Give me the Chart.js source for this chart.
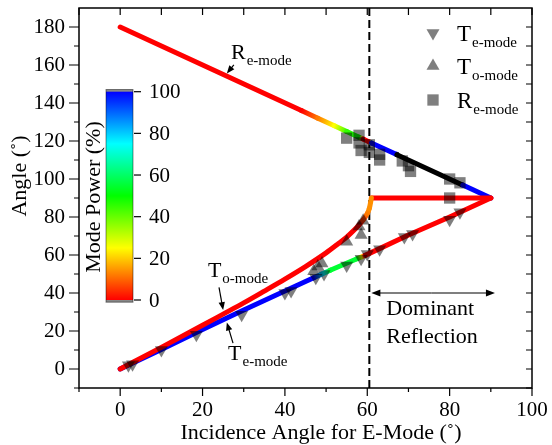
<!DOCTYPE html>
<html>
<head>
<meta charset="utf-8">
<script src="https://cdn.jsdelivr.net/npm/chart.js@4.4.0/dist/chart.umd.min.js"></script>
<style>html,body{margin:0;padding:0;background:#fff;}</style>
</head>
<body>
<canvas id="miGrafico" width="552" height="445"></canvas>
<script>
// axis ticks
const xTicks = [0, 20, 40, 60, 80, 100];
const xMinor = [-10, 10, 30, 50, 70, 90];
const yTicks = [0, 20, 40, 60, 80, 100, 120, 140, 160, 180];
const yMinor = [-10, 10, 30, 50, 70, 90, 110, 130, 150, 170];
const powerTicks = [0, 20, 40, 60, 80, 100];

// R e-mode line (power > 100 drawn black, over range)
const reLineX = [0, 44, 48, 52, 55, 58, 59, 60.5, 61, 67, 67.2, 83, 83.2, 90];
const reLineY = [180, 136, 132, 128, 125, 122, 121, 119.5, 119, 113, 112.8, 97, 96.8, 90];
const reLinePower = [0, 0, 12, 25, 45, 50, 0, 0, 100, 100, 101, 101, 100, 100];

// T o-mode line
const toCurveX = [0, 10, 20, 25, 30, 35, 40, 45, 50, 53, 55, 57, 58, 59, 60, 60.5, 61];
const toCurveY = [0, 11.4, 23, 28.9, 34.8, 41, 47.3, 53.9, 61.1, 66, 69.4, 73.5, 75.8, 78.5, 81.8, 84.5, 90];
const toCurvePower = [0, 0, 0, 0, 0, 0, 0, 0, 0, 0, 0, 0, 0, 5, 12, 14, 14];
const toFlatX = [61, 90];
const toFlatY = [90, 90];
const toFlatPower = [0, 0];

// T e-mode line
const teLineX = [0, 10, 20, 30, 40, 45, 47, 49, 51, 57.5, 59.5, 70, 80, 90];
const teLineY = [0, 10.3, 20.8, 31, 41, 46, 48, 50, 52, 58, 59.8, 70.5, 80, 90];
const teLinePower = [100, 100, 100, 100, 100, 100, 100, 80, 55, 55, 0, 0, 0, 0];

// measured points
const teMarkX = [2, 3, 10, 18.5, 29.5, 40, 41.5, 47.5, 49.5, 55, 58.5, 60, 63, 69, 71, 80, 82.5];
const teMarkY = [2, 2.5, 10, 18, 28.5, 40, 41, 48, 50, 54.5, 58, 60.5, 63, 69.5, 71, 78.5, 82.5];
const toMarkX = [47, 48, 49, 55, 58, 58.5, 59];
const toMarkY = [51.5, 54, 55.5, 67, 75, 70.5, 78];
const reMarkX = [55, 58, 58, 58.5, 60.5, 60.5, 63, 63, 68.5, 70, 70.5, 80, 82.5, 80];
const reMarkY = [121.5, 123, 119, 115, 118, 114, 113, 110, 109.5, 107, 104, 100, 98, 90];

const dominantX = 60.5;
const arrowY = 40;
const arrowX = [61, 91];

const SERIF = "'Liberation Serif', 'Times New Roman', serif";
const canvas = document.getElementById('miGrafico');
const cx = canvas.getContext('2d');
const markColor = 'rgba(0,0,0,0.5)';

const rainbow = [[0, [255, 0, 0]], [25, [255, 255, 0]], [50, [0, 255, 0]], [75, [0, 255, 255]], [100, [0, 0, 255]]];
function powerColor(p) {
    if (p > 100) return 'rgb(0,0,0)';
    for (let i = 1; i < rainbow.length; i++) {
        if (p <= rainbow[i][0]) {
            const p0 = rainbow[i - 1][0], c0 = rainbow[i - 1][1];
            const p1 = rainbow[i][0], c1 = rainbow[i][1];
            const t = (p - p0) / (p1 - p0);
            return 'rgb(' + c0.map((c, k) => Math.round(c + (c1[k] - c) * t)).join(',') + ')';
        }
    }
    return 'rgb(0,0,255)';
}
function segColor(power) {
    return ctx => {
        const a = power[ctx.p0DataIndex], b = power[ctx.p1DataIndex];
        if (a === b) return powerColor(a);
        const g = cx.createLinearGradient(ctx.p0.x, ctx.p0.y, ctx.p1.x, ctx.p1.y);
        if (a > 100 || b > 100) {
            g.addColorStop(0, powerColor(a));
            g.addColorStop(1, powerColor(b));
            return g;
        }
        for (let k = 0; k <= 10; k++) g.addColorStop(k / 10, powerColor(a + (b - a) * k / 10));
        return g;
    };
}
function pts(xs, ys) { return xs.map((x, i) => ({x: x, y: ys[i]})); }

function lineSet(xs, ys, power, mono) {
    return {
        data: pts(xs, ys), showLine: true, pointRadius: 0, borderWidth: 5,
        borderCapStyle: 'round', borderJoinStyle: 'round',
        cubicInterpolationMode: mono ? 'monotone' : 'default', tension: 0,
        segment: {borderColor: segColor(power)}, borderColor: powerColor(power[0])
    };
}
function markSet(xs, ys, style, rot, r) {
    return {
        data: pts(xs, ys), showLine: false, pointStyle: style, rotation: rot,
        pointRadius: r, pointBackgroundColor: markColor, pointBorderWidth: 0
    };
}

function drawSub(ctx, main, sub, x, y, big, small) {
    ctx.textAlign = 'left';
    ctx.textBaseline = 'alphabetic';
    ctx.font = big + 'px ' + SERIF;
    ctx.fillText(main, x, y);
    const w = ctx.measureText(main).width;
    ctx.font = small + 'px ' + SERIF;
    ctx.fillText(sub, x + w + 1, y + 6);
}
function arrow(ctx, x0, y0, x1, y1, head) {
    const a = Math.atan2(y1 - y0, x1 - x0);
    ctx.beginPath();
    ctx.moveTo(x0, y0);
    ctx.lineTo(x1 - Math.cos(a) * head * 0.8, y1 - Math.sin(a) * head * 0.8);
    ctx.stroke();
    ctx.beginPath();
    ctx.moveTo(x1, y1);
    ctx.lineTo(x1 - Math.cos(a) * head + Math.sin(a) * head * 0.4, y1 - Math.sin(a) * head - Math.cos(a) * head * 0.4);
    ctx.lineTo(x1 - Math.cos(a) * head - Math.sin(a) * head * 0.4, y1 - Math.sin(a) * head + Math.cos(a) * head * 0.4);
    ctx.closePath();
    ctx.fill();
}

const decor = {
    id: 'decor',
    beforeDatasetsDraw(chart) {
        const ctx = chart.ctx, a = chart.chartArea, xs = chart.scales.x;
        ctx.save();
        ctx.strokeStyle = '#000';
        ctx.lineWidth = 2;
        ctx.setLineDash([8, 4]);
        const px = xs.getPixelForValue(dominantX);
        ctx.beginPath();
        ctx.moveTo(px, a.bottom);
        ctx.lineTo(px, a.top);
        ctx.stroke();
        ctx.restore();
    },
    afterDraw(chart) {
        const ctx = chart.ctx, a = chart.chartArea;
        const xs = chart.scales.x, ys = chart.scales.y;
        const X = v => xs.getPixelForValue(v), Y = v => ys.getPixelForValue(v);
        ctx.save();
        ctx.fillStyle = '#000';
        ctx.strokeStyle = '#000';
        // frame
        ctx.lineWidth = 1.5;
        ctx.strokeRect(a.left, a.top, a.right - a.left, a.bottom - a.top);
        ctx.lineWidth = 1.2;
        ctx.beginPath();
        xTicks.forEach(v => { ctx.moveTo(X(v), a.bottom); ctx.lineTo(X(v), a.bottom + 8); });
        xMinor.forEach(v => { ctx.moveTo(X(v), a.bottom); ctx.lineTo(X(v), a.bottom + 4); });
        xTicks.concat(xMinor).forEach(v => { ctx.moveTo(X(v), a.top); ctx.lineTo(X(v), a.top + 7); });
        yTicks.forEach(v => { ctx.moveTo(a.left, Y(v)); ctx.lineTo(a.left - 10, Y(v)); });
        yMinor.forEach(v => { ctx.moveTo(a.left, Y(v)); ctx.lineTo(a.left - 5, Y(v)); });
        yTicks.concat(yMinor).forEach(v => { ctx.moveTo(a.right, Y(v)); ctx.lineTo(a.right - 6, Y(v)); });
        ctx.stroke();

        // axis titles
        ctx.font = '22px ' + SERIF;
        ctx.textAlign = 'center';
        ctx.textBaseline = 'alphabetic';
        ctx.fillText('Incidence Angle for E-Mode (\u02da)', 321, 439);
        ctx.save();
        ctx.translate(20, 176);
        ctx.rotate(-Math.PI / 2);
        ctx.textBaseline = 'middle';
        ctx.fillText('Angle (\u02da)', 0, 0);
        ctx.restore();

        // colour bar
        const cbL = 106, cbR = 133, cbTop = 91.7, cbBot = 300;
        const cbY = v => cbBot - (cbBot - cbTop) * v / 100;
        const g = ctx.createLinearGradient(0, cbBot, 0, cbTop);
        for (let k = 0; k <= 20; k++) g.addColorStop(k / 20, powerColor(k * 5));
        ctx.fillStyle = '#888';
        ctx.fillRect(cbL, cbTop - 2.2, cbR - cbL, cbBot - cbTop + 4.4);
        ctx.fillStyle = g;
        ctx.fillRect(cbL, cbTop, cbR - cbL, cbBot - cbTop);
        ctx.strokeStyle = 'rgba(0,0,0,0.45)';
        ctx.lineWidth = 1;
        ctx.strokeRect(cbL, cbTop - 2.2, cbR - cbL, cbBot - cbTop + 4.4);
        ctx.strokeStyle = '#000';
        ctx.lineWidth = 1.2;
        ctx.fillStyle = '#000';
        ctx.font = '21px ' + SERIF;
        ctx.textAlign = 'left';
        ctx.textBaseline = 'middle';
        powerTicks.forEach(v => {
            ctx.beginPath();
            ctx.moveTo(cbR + 1, cbY(v));
            ctx.lineTo(cbR + 8, cbY(v));
            ctx.stroke();
            ctx.fillText(String(v), 149, cbY(v) + 1);
        });
        ctx.save();
        ctx.translate(94, 197);
        ctx.rotate(-Math.PI / 2);
        ctx.textAlign = 'center';
        ctx.font = '22px ' + SERIF;
        ctx.fillText('Mode Power (%)', 0, 0);
        ctx.restore();

        // line labels with arrows
        ctx.lineWidth = 1.2;
        drawSub(ctx, 'R', 'e-mode', X(26.9), Y(163.2), 22, 15);
        arrow(ctx, X(27.6), Y(160.1), X(25.9), Y(155.5), 8);
        drawSub(ctx, 'T', 'o-mode', X(21.3), Y(48.3), 22, 15);
        arrow(ctx, X(24), Y(43), X(25), Y(31), 8);
        drawSub(ctx, 'T', 'e-mode', X(26.2), Y(4.7), 22, 15);
        arrow(ctx, X(27.4), Y(13.6), X(25.9), Y(24.5), 8);

        // dominant reflection
        arrow(ctx, X(arrowX[0]) + 60, Y(arrowY), X(arrowX[0]), Y(arrowY), 9);
        arrow(ctx, X(arrowX[0]) + 60, Y(arrowY), X(arrowX[1]), Y(arrowY), 9);
        ctx.font = '22px ' + SERIF;
        ctx.textAlign = 'left';
        ctx.textBaseline = 'alphabetic';
        ctx.fillText('Dominant', X(64.6), Y(28.3));
        ctx.fillText('Reflection', X(64.6), Y(13.6));

        // legend
        const leg = [['T', 'e-mode', 'triangle', 180], ['T', 'o-mode', 'triangle', 0], ['R', 'e-mode', 'rect', 0]];
        const legY = [33, 66, 100];
        leg.forEach((e, i) => {
            ctx.fillStyle = markColor;
            Chart.helpers.drawPoint(ctx, {pointStyle: e[2], rotation: e[3], radius: e[2] === 'rect' ? 8 : 7.5, borderWidth: 0}, 433, legY[i]);
            ctx.fillStyle = '#000';
            drawSub(ctx, e[0], e[1], 457, legY[i] + 8, 23, 15);
        });
        ctx.restore();
    }
};

const grafico = new Chart(canvas, {
    type: 'line',
    data: {
        datasets: [
            markSet(teMarkX, teMarkY, 'triangle', 180, 7.5),
            markSet(toMarkX, toMarkY, 'triangle', 0, 7.5),
            markSet(reMarkX, reMarkY, 'rect', 0, 8),
            lineSet(toCurveX, toCurveY, toCurvePower, true),
            lineSet(toFlatX, toFlatY, toFlatPower, false),
            lineSet(teLineX, teLineY, teLinePower, false),
            lineSet(reLineX, reLineY, reLinePower, false)
        ]
    },
    options: {
        responsive: false,
        animation: false,
        layout: {padding: {top: 7, right: 20, left: 0, bottom: 0}},
        plugins: {legend: {display: false}, tooltip: {enabled: false}},
        scales: {
            x: {
                type: 'linear', min: -10, max: 100,
                grid: {display: false, drawTicks: false}, border: {display: false},
                ticks: {font: {family: SERIF, size: 21}, color: '#000', padding: 10, autoSkip: false, maxRotation: 0},
                afterBuildTicks: s => { s.ticks = xTicks.map(v => ({value: v})); },
                afterFit: s => { s.height = 57; s.paddingLeft = 0; s.paddingRight = 0; }
            },
            y: {
                type: 'linear', min: -10, max: 190,
                grid: {display: false, drawTicks: false}, border: {display: false},
                ticks: {font: {family: SERIF, size: 21}, color: '#000', padding: 14, autoSkip: false},
                afterBuildTicks: s => { s.ticks = yTicks.map(v => ({value: v})); },
                afterFit: s => { s.width = 79; s.paddingTop = 0; s.paddingBottom = 0; }
            }
        }
    },
    plugins: [decor]
});
</script>
</body>
</html>
